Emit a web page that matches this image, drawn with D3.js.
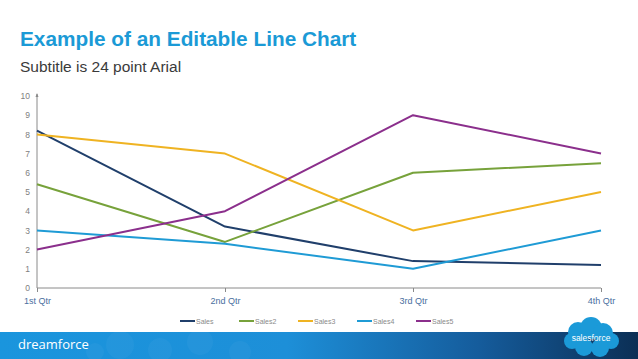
<!DOCTYPE html>
<html><head><meta charset="utf-8">
<script src="https://cdn.jsdelivr.net/npm/d3@7"></script>
<style>html,body{margin:0;padding:0;background:#fff;overflow:hidden}</style>
</head><body>
<svg id="c" width="638" height="359"></svg>
<script>
const categories = ["1st Qtr","2nd Qtr","3rd Qtr","4th Qtr"];
const seriesNames = ["Sales","Sales2","Sales3","Sales4","Sales5"];
const sales  = [8.2, 3.2, 1.4, 1.2];
const sales2 = [5.4, 2.4, 6.0, 6.5];
const sales3 = [8.0, 7.0, 3.0, 5.0];
const sales4 = [3.0, 2.3, 1.0, 3.0];
const sales5 = [2.0, 4.0, 9.0, 7.0];
const yTicks = [0,1,2,3,4,5,6,7,8,9,10];
const colors = ["#203f6b","#77a23b","#efb322","#1f9bd5","#8b2f8c"];
const seriesValues = [sales, sales2, sales3, sales4, sales5];

const svg = d3.select("#c");
const font = "Liberation Sans, Arial, sans-serif";

// Title
svg.append("text").attr("x",20).attr("y",46).attr("font-family",font)
  .attr("font-size",20.8).attr("font-weight","bold").attr("fill","#1b9ad6")
  .text("Example of an Editable Line Chart");
svg.append("text").attr("x",20).attr("y",72).attr("font-family",font)
  .attr("font-size",15.5).attr("fill","#3a3a3a").text("Subtitle is 24 point Arial");

const x = d3.scalePoint().domain(categories).range([37,601]);
const y = d3.scaleLinear().domain([0,10]).range([288,96]);

// Y axis
const yAxis = d3.axisLeft(y).tickValues(yTicks).tickSize(0).tickPadding(7);
const gy = svg.append("g").attr("transform","translate(37,0)").call(yAxis);
gy.select(".domain").attr("stroke","#8a8a8a").attr("d","M0,288V94");
gy.selectAll("text").attr("font-family",font).attr("font-size",8.5).attr("fill","#808080");
svg.append("path").attr("d","M35.5,97 L37,93 L38.5,97 Z").attr("fill","#8a8a8a");

// X axis
const xAxis = d3.axisBottom(x).tickSize(4).tickPadding(6).tickSizeOuter(0);
const gx = svg.append("g").attr("transform","translate(0,288)").call(xAxis);
gx.select(".domain").attr("stroke","#8a8a8a").attr("d","M37,0H601");
gx.selectAll(".tick line").attr("stroke","#8a8a8a");
gx.selectAll("text").attr("font-family",font).attr("font-size",9).attr("fill","#4a6fa0");

// Lines
const line = d3.line().x((d,i)=>x(categories[i])).y(d=>y(d));
seriesValues.forEach((vals,k)=>{
  svg.append("path").datum(vals).attr("d",line).attr("fill","none")
    .attr("stroke",colors[k]).attr("stroke-width",2).attr("stroke-linejoin","round");
});

// Legend
const lg = svg.append("g");
seriesNames.forEach((n,k)=>{
  const lx = 180 + k*59;
  lg.append("line").attr("x1",lx).attr("x2",lx+15).attr("y1",321).attr("y2",321)
    .attr("stroke",colors[k]).attr("stroke-width",2);
  lg.append("text").attr("x",lx+16).attr("y",323.5).attr("font-family",font)
    .attr("font-size",7).attr("fill","#8a8a8a").text(n);
});

// Banner
const defs = svg.append("defs");
const grad = defs.append("linearGradient").attr("id","bg").attr("x1","0").attr("x2","1");
grad.append("stop").attr("offset","0%").attr("stop-color","#1a95dd");
grad.append("stop").attr("offset","45%").attr("stop-color","#1d8fd8");
grad.append("stop").attr("offset","75%").attr("stop-color","#155c9c");
grad.append("stop").attr("offset","100%").attr("stop-color","#0b2f55");
svg.append("rect").attr("x",0).attr("y",332).attr("width",638).attr("height",27).attr("fill","url(#bg)");
[[120,345,14],[160,350,12],[200,342,13],[240,352,11],[95,352,9]].forEach(c=>{
  svg.append("circle").attr("cx",c[0]).attr("cy",c[1]).attr("r",c[2]).attr("fill","#ffffff").attr("opacity",0.035);
});
svg.append("text").attr("x",18).attr("y",349).attr("font-family","Open Sans, sans-serif")
  .attr("font-size",13).attr("fill","#fff").text("dreamforce");

// Salesforce cloud
const cloud = svg.append("g").attr("fill","#1b9ad8");
[[578,332,10],[591,328,11],[603,333,10],[572,341,8],[611,341,8],[584,347,9],[600,348,9]].forEach(c=>{
  cloud.append("circle").attr("cx",c[0]).attr("cy",c[1]).attr("r",c[2]);
});
svg.append("text").attr("x",591).attr("y",341).attr("text-anchor","middle")
  .attr("font-family",font).attr("font-size",8.5).attr("fill","#fff").text("salesforce");
</script>
</body></html>
